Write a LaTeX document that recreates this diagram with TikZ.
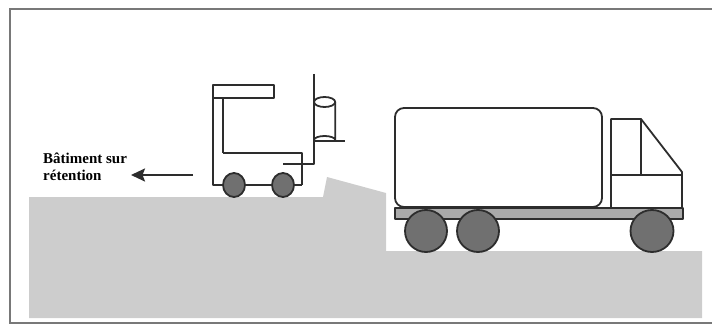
\documentclass[tikz,border=0pt]{standalone}
\usepackage{fontspec}
\setmainfont{Liberation Serif}
\usetikzlibrary{arrows.meta}
\definecolor{ground}{RGB}{205,205,205}
\definecolor{ink}{RGB}{45,45,45}
\definecolor{tyre}{RGB}{112,112,112}
\definecolor{chassis}{RGB}{170,170,170}
\definecolor{framegray}{RGB}{120,120,120}
\tikzset{
  outline/.style={draw=ink, line width=1.8pt, line join=round},
  wheel/.style={outline, fill=tyre},
  labeltext/.style={inner sep=0pt, align=left, font=\fontsize{15}{17}\selectfont\bfseries},
  pointer/.style={draw=ink, line width=2.2pt, -{Stealth[length=14pt,width=13pt,inset=2.5pt]}}
}
\begin{document}
\begin{tikzpicture}[x=1pt,y=-1pt]
\useasboundingbox (0,0) rectangle (712,329);
% outer frame
\draw[framegray, line width=1.8pt] (716,9) -- (10,9) -- (10,323) -- (716,323);

% ground: upper platform with ramp, lower road level
\fill[ground] (29,197) -- (323,197) -- (327,177) -- (386,193) -- (386,251)
  -- (702,251) -- (702,318) -- (29,318) -- cycle;

% ---- forklift ----
\draw[outline] (213,85) rectangle (274,98);           % overhead guard
\draw[outline] (213,98) -- (213,185) -- (302,185);    % frame post and base
\draw[outline] (223,98) -- (223,153);                 % inner post
\draw[outline] (223,153) -- (302,153) -- (302,185);   % body
\draw[outline] (314,74) -- (314,164) -- (283,164);    % mast
\draw[outline] (314,141) -- (345,141);                % fork
% drum on the fork
\draw[outline] (314,102) -- (314,140) arc[start angle=180, end angle=360, x radius=10.6, y radius=4]
  -- (335.2,102);
\draw[outline] (324.6,102) ellipse[x radius=10.6, y radius=5];
% forklift wheels
\draw[wheel] (234,185) ellipse[x radius=11, y radius=12];
\draw[wheel] (283,185) ellipse[x radius=11, y radius=12];

% ---- label and arrow ----
\node[labeltext, anchor=north west] (label) at (43,153) {Bâtiment sur\\rétention};
\coordinate (arrowfrom) at (193,175);
\coordinate (arrowto) at (131,175);
\draw[pointer] (arrowfrom) -- (arrowto);

% ---- truck ----
\draw[outline, rounded corners=9pt] (395,108) rectangle (602,207);   % tank body
\draw[outline] (611,207) -- (611,119) -- (641,119) -- (682,172) -- (682,207); % cab
\draw[outline] (611,175) -- (682,175);
\draw[outline] (641,119) -- (641,175);
\draw[outline, fill=chassis] (395,208) rectangle (683,219);          % chassis
\draw[wheel] (426,231) ellipse[x radius=21, y radius=21];
\draw[wheel] (478,231) ellipse[x radius=21, y radius=21];
\draw[wheel] (652,231) ellipse[x radius=21.5, y radius=21];
\end{tikzpicture}
\end{document}
